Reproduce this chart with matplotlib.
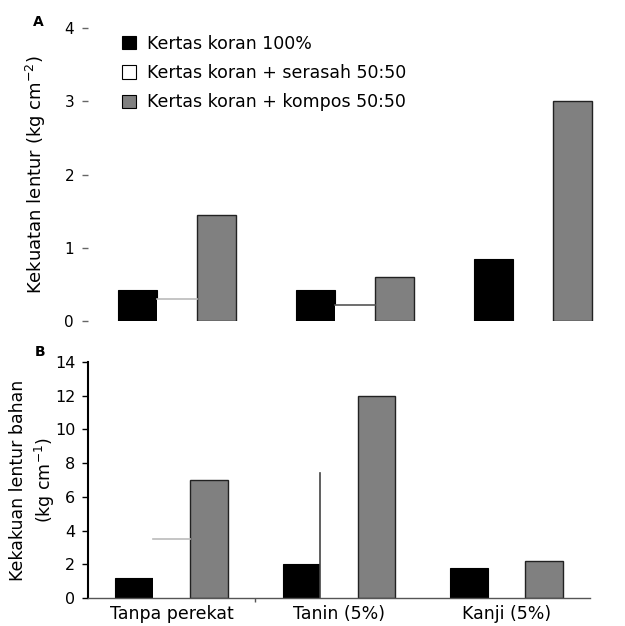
import matplotlib
matplotlib.use("Agg")
import matplotlib.pyplot as plt
import numpy as np

plt.rcParams['font.family'] = ['DejaVu Sans']

categories = ["Tanpa perekat", "Tanin (5%)", "Kanji (5%)"]
series_labels = ["Kertas koran 100%", "Kertas koran + serasah 50:50", "Kertas koran + kompos 50:50"]

# Panel A: Kekuatan lentur (kg cm-2)
a_koran = [0.43, 0.43, 0.84]
a_serasah = [0.30, 0.22, 0.0]
a_kompos = [1.45, 0.60, 3.0]

# Panel B: Kekakuan lentur bahan (kg cm-1)
b_koran = [1.17, 2.0, 1.8]
b_serasah = [3.5, 7.4, 0.0]
b_kompos = [7.0, 12.0, 2.2]

a_yticks = [0, 1, 2, 3, 4]
b_yticks = [0, 2, 4, 6, 8, 10, 12, 14]

W, H = 625, 626
fig = plt.figure(figsize=(W / 100, H / 100), dpi=100)

def frac(l, t, r, b):
    return [l / W, 1 - b / H, (r - l) / W, (b - t) / H]

axA = fig.add_axes(frac(88, 28, 622, 321))
axB = fig.add_axes(frac(88, 362, 590, 598))

x = np.arange(len(categories))
GRAY = "#808080"

def draw(ax, koran, serasah, kompos, w, frag):
    b1 = ax.bar(x - w, koran, w, color="black", edgecolor="black", linewidth=0.8, label=series_labels[0])
    b2 = ax.bar(x, serasah, w, color="white", edgecolor="none", linewidth=0, label=series_labels[1])
    b3 = ax.bar(x + w, kompos, w, color=GRAY, edgecolor="#222222", linewidth=1.0, label=series_labels[2])
    # visible fragments of the white bars' outlines, as in the scanned original
    for p, kind, col in zip(b2.patches, frag, ["#bbbbbb", "#555555", "#555555"]):
        x0, h, bw = p.get_x(), p.get_height(), p.get_width()
        if h <= 0:
            continue
        if kind == "top":
            ax.plot([x0, x0 + bw], [h, h], color=col, lw=1.2)
        elif kind == "left":
            ax.plot([x0, x0], [0, h], color="#444444", lw=1.2)
    return b1, b2, b3

draw(axA, a_koran, a_serasah, a_kompos, 0.222, ["top", "top", "none"])
draw(axB, b_koran, b_serasah, b_kompos, 0.225, ["top", "left", "none"])

# Panel A styling
axA.set_xlim(-0.5, 2.5)
axA.set_ylim(0, 4)
axA.set_yticks(a_yticks)
axA.set_yticklabels([str(t) for t in a_yticks], fontsize=11)
axA.tick_params(axis="y", length=4, width=1, color="#666666", pad=6)
axA.set_xticks([])
for s in axA.spines.values():
    s.set_visible(False)
axA.set_ylabel("Kekuatan lentur (kg cm$^{-2}$)", fontsize=13, labelpad=12)
leg = axA.legend(loc="upper left", bbox_to_anchor=(0.035, 1.03), frameon=False,
                 fontsize=12.5, handlelength=0.8, handleheight=0.8,
                 handletextpad=0.6, labelspacing=0.65)
for h in leg.legend_handles:
    h.set_edgecolor("black")
    h.set_linewidth(0.8)

# Panel B styling
axB.set_xlim(-0.5, 2.5)
axB.set_ylim(0, 14)
axB.set_yticks(b_yticks)
axB.set_yticklabels([str(t) for t in b_yticks], fontsize=11.5)
axB.tick_params(axis="y", length=4, width=1, pad=5)
axB.set_xticks(x)
axB.set_xticklabels(categories, fontsize=12.5)
axB.tick_params(axis="x", length=0, pad=5)
axB.set_xticks([0.5], minor=True)
axB.tick_params(axis="x", which="minor", length=3, width=1, color="#555555")
axB.spines["top"].set_visible(False)
axB.spines["right"].set_visible(False)
axB.spines["left"].set_linewidth(1.5)
axB.spines["bottom"].set_color("#555555")
axB.spines["bottom"].set_linewidth(1.0)
axB.set_ylabel("Kekakuan lentur bahan\n(kg cm$^{-1}$)", fontsize=12.5, linespacing=1.3)
axB.yaxis.set_label_coords(-0.062, 0.5)

fig.text(38 / W, 1 - 22 / H, "A", fontsize=10, fontweight="bold", ha="center", va="center")
fig.text(40 / W, 1 - 352 / H, "B", fontsize=10, fontweight="bold", ha="center", va="center")

fig.savefig("out.png", dpi=100)
